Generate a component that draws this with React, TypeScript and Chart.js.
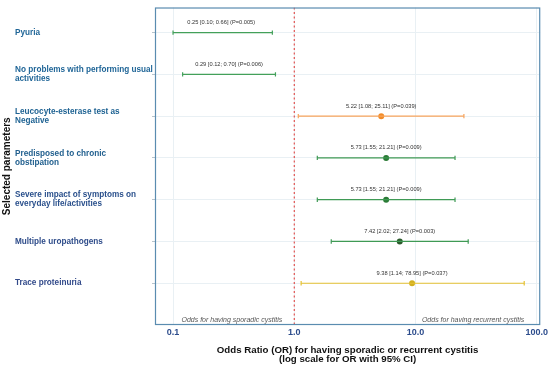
import React, { useEffect, useRef } from "react";
import { Chart, registerables } from "chart.js";

Chart.register(...registerables);

const categories: (string | string[])[] = [
  "Pyuria",
  ["No problems with performing usual", "activities"],
  ["Leucocyte-esterase test as", "Negative"],
  ["Predisposed to chronic", "obstipation"],
  ["Severe impact of symptoms on", "everyday life/activities"],
  "Multiple uropathogens",
  "Trace proteinuria",
];
const oddsRatio = [0.25, 0.29, 5.22, 5.73, 5.73, 7.42, 9.38];
const lowerCI = [0.1, 0.12, 1.08, 1.55, 1.55, 2.02, 1.14];
const upperCI = [0.66, 0.7, 25.11, 21.21, 21.21, 27.24, 78.95];
const pValues = ["0.005", "0.006", "0.039", "0.009", "0.009", "0.003", "0.037"];
const xTicks = [0.1, 1, 10, 100];
const xTickLabels = ["0.1", "1.0", "10.0", "100.0"];

const lineColors = ["#43a05a", "#43a05a", "#f7a45c", "#3f9a55", "#3f9a55", "#3f9a55", "#e6c232"];
const pointColors = ["rgba(0,0,0,0)", "rgba(0,0,0,0)", "#f28c28", "#2a7a35", "#2a7a35", "#2c5a2c", "#d2b020"];
const labelColors = ["#1f6597", "#1f6597", "#1f6393", "#22608f", "#2a508c", "#2e4c8a", "#324a8a"];

const FONT = "'Liberation Sans', Arial, sans-serif";

const fmt = (v: number) => v.toFixed(2);

export default function App() {
  const ref = useRef<HTMLCanvasElement | null>(null);

  useEffect(() => {
    if (!ref.current) return;
    const rows = categories.map((_, i) => i + 1);

    const datasets: any[] = [];
    // reference line at OR = 1
    datasets.push({
      data: [{ x: 1, y: 0.4 }, { x: 1, y: 8 }],
      showLine: true,
      borderColor: "#e0322e",
      borderWidth: 1,
      borderDash: [2, 2.5],
      pointRadius: 0,
    });
    rows.forEach((r, i) => {
      datasets.push({
        data: [{ x: lowerCI[i], y: r }, { x: upperCI[i], y: r }],
        showLine: true,
        borderColor: lineColors[i],
        borderWidth: 1.2,
        pointStyle: "line",
        rotation: 90,
        pointRadius: 2.2,
        pointBorderWidth: 1.2,
        pointBorderColor: lineColors[i],
        pointBackgroundColor: lineColors[i],
      });
    });
    datasets.push({
      data: rows.map((r, i) => ({ x: oddsRatio[i], y: r })),
      showLine: false,
      pointRadius: 3,
      pointBorderWidth: 0,
      pointBackgroundColor: pointColors,
      pointBorderColor: pointColors,
    });

    const textPlugin = {
      id: "texts",
      afterDatasetsDraw(chart: any) {
        const { ctx, chartArea, scales } = chart;
        const xs = scales.x;
        const ys = scales.y;
        ctx.save();
        // border
        ctx.strokeStyle = "#5a8cb0";
        ctx.lineWidth = 1.2;
        ctx.strokeRect(chartArea.left + 0.5, chartArea.top + 0.5, chartArea.right - chartArea.left - 1, chartArea.bottom - chartArea.top - 1);
        // value labels
        ctx.fillStyle = "#333";
        ctx.font = `5.7px ${FONT}`;
        ctx.textAlign = "center";
        ctx.textBaseline = "middle";
        rows.forEach((r, i) => {
          const x = xs.getPixelForValue(oddsRatio[i]);
          const y = ys.getPixelForValue(r) - 10;
          ctx.fillText(`${fmt(oddsRatio[i])} [${fmt(lowerCI[i])}; ${fmt(upperCI[i])}] (P=${pValues[i]})`, x, y);
        });
        // annotations
        ctx.fillStyle = "#555";
        ctx.font = `italic 7px ${FONT}`;
        ctx.textAlign = "right";
        ctx.fillText("Odds for having sporadic cystitis", xs.getPixelForValue(1) - 12, chartArea.bottom - 4.5);
        ctx.fillText("Odds for having recurrent cystitis", chartArea.right - 16, chartArea.bottom - 4.5);
        // x title
        ctx.fillStyle = "#111";
        ctx.font = `bold 9.7px ${FONT}`;
        ctx.textAlign = "center";
        const cx = (chartArea.left + chartArea.right) / 2;
        ctx.fillText("Odds Ratio (OR) for having sporadic or recurrent cystitis", cx, chartArea.bottom + 25);
        ctx.fillText("(log scale for OR with 95% CI)", cx, chartArea.bottom + 34);
        // y title
        ctx.translate(7, (chartArea.top + chartArea.bottom) / 2);
        ctx.rotate(-Math.PI / 2);
        ctx.font = `bold 10px ${FONT}`;
        ctx.fillText("Selected parameters", 0, 0);
        ctx.restore();
      },
    };

    const chart = new Chart(ref.current, {
      type: "scatter",
      data: { datasets },
      plugins: [textPlugin],
      options: {
        animation: false,
        responsive: false,
        layout: { padding: { left: 15, top: 4, right: 9, bottom: 0 } },
        plugins: { legend: { display: false }, tooltip: { enabled: false } },
        scales: {
          x: {
            type: "logarithmic",
            min: 0.071,
            max: 107,
            afterBuildTicks: (s: any) => {
              s.ticks = xTicks.map((v) => ({ value: v }));
            },
            afterFit: (s: any) => {
              s.height = 40;
            },
            ticks: {
              callback: (v: any) => xTickLabels[xTicks.indexOf(Number(v))] ?? "",
              color: "#2c4c8c",
              font: { family: FONT, size: 9, weight: "bold" },
              padding: 2,
              maxRotation: 0,
              autoSkip: false,
            },
            grid: { color: "#e9f0f4", drawTicks: false },
            border: { display: false },
          },
          y: {
            type: "linear",
            min: 0.4,
            max: 8,
            reverse: true,
            afterBuildTicks: (s: any) => {
              s.ticks = rows.map((v) => ({ value: v }));
            },
            afterFit: (s: any) => {
              s.width = 140;
            },
            ticks: {
              callback: (v: any) => categories[Number(v) - 1] ?? "",
              color: (c: any) => labelColors[c.index] ?? "#1f6597",
              crossAlign: "far",
              font: { family: FONT, size: 8.2, weight: "bold", lineHeight: 1.1 },
              autoSkip: false,
            },
            grid: { color: "#e9f0f4", tickColor: "#b8c4cc", tickLength: 3 },
            border: { display: false },
          },
        },
      },
    } as any);
    return () => chart.destroy();
  }, []);

  return (
    <div style={{ position: "fixed", left: 0, top: 0, width: 550, height: 365, background: "#fff" }}>
      <canvas ref={ref} width={550} height={365} style={{ display: "block" }} />
    </div>
  );
}
